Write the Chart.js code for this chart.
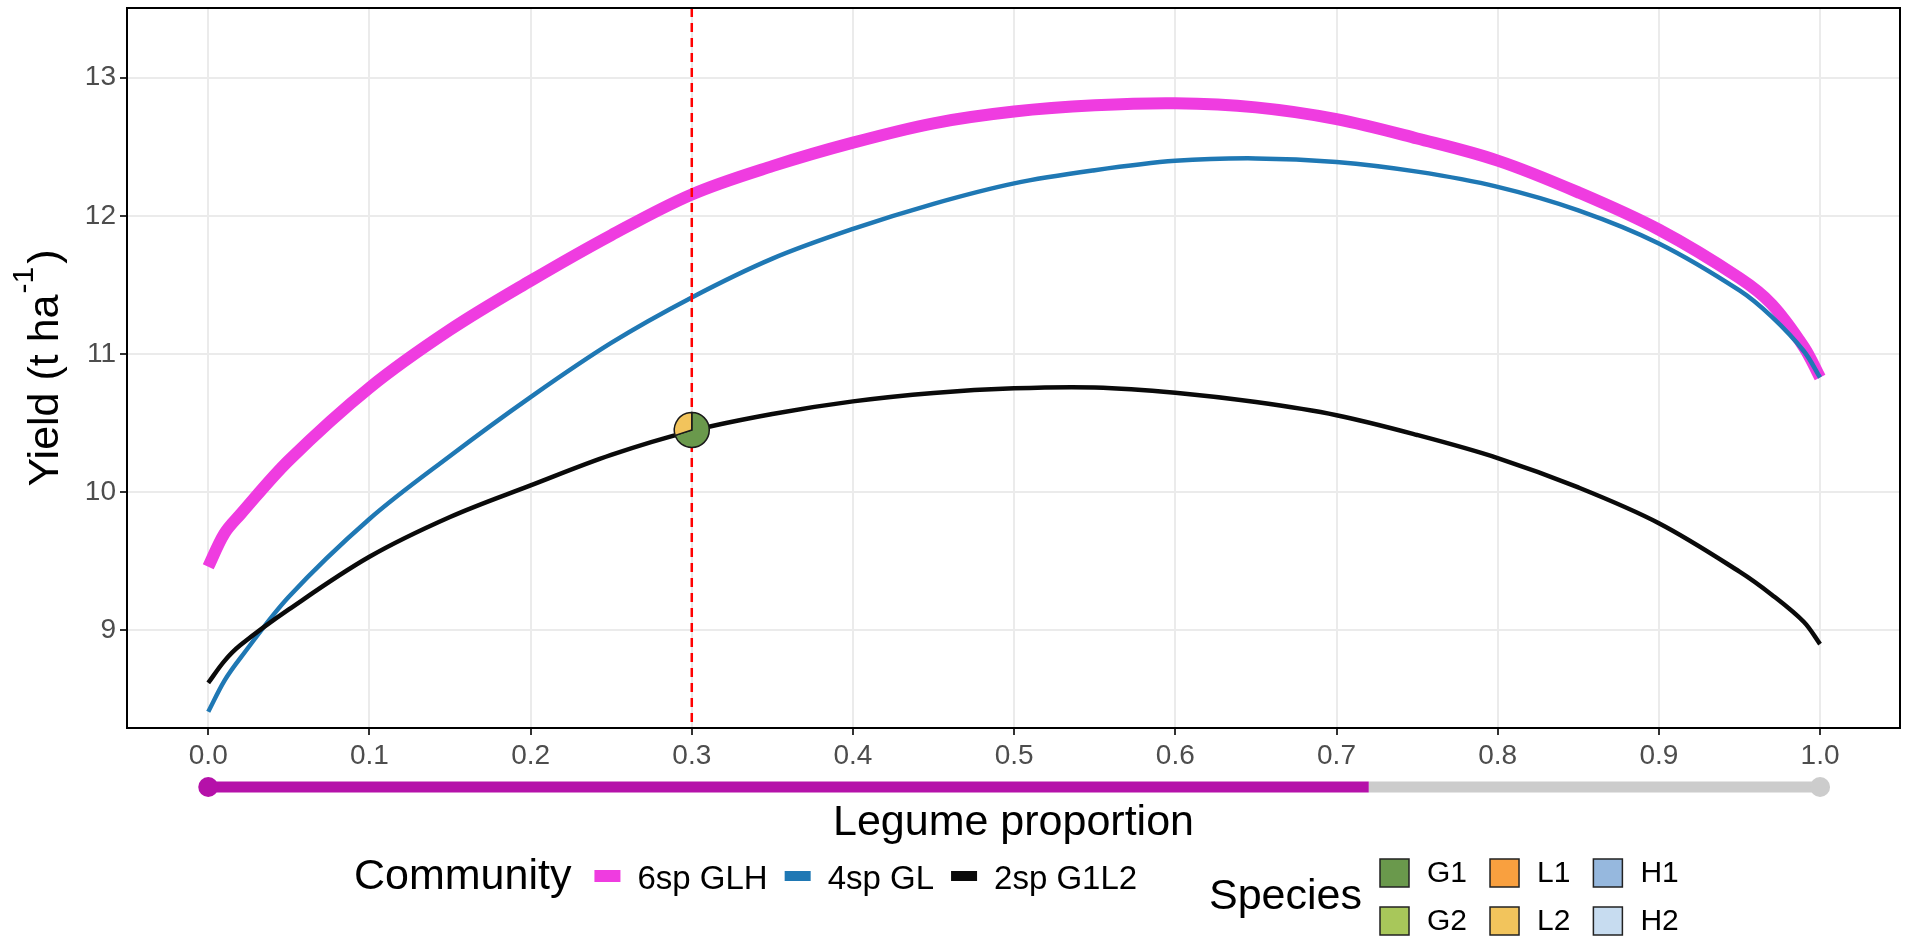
<!DOCTYPE html>
<html>
<head>
<meta charset="utf-8">
<script src="https://cdn.jsdelivr.net/npm/chart.js@4.4.1/dist/chart.umd.min.js"></script>
<style>
  html, body { margin: 0; padding: 0; background: #fff; }
</style>
</head>
<body>
<canvas id="myChart" width="1905" height="940"></canvas>
<script>
// legume proportion along the x axis
const legumeProp = [0, 0.01, 0.02, 0.05, 0.1, 0.15, 0.2, 0.25, 0.3, 0.35, 0.4, 0.45, 0.5,
                    0.55, 0.6, 0.65, 0.7, 0.75, 0.8, 0.85, 0.9, 0.95, 0.97, 0.99, 1.0];
// predicted yield (t/ha) per community
const yield6sp = [9.46, 9.70, 9.84, 10.23, 10.755, 11.175, 11.53, 11.86, 12.155, 12.36, 12.53, 12.67, 12.755,
                  12.80, 12.815, 12.785, 12.70, 12.56, 12.40, 12.17, 11.90, 11.55, 11.36, 11.05, 10.83];
const yield4sp = [8.41, 8.634, 8.80, 9.243, 9.806, 10.262, 10.688, 11.08, 11.409, 11.69, 11.905, 12.087, 12.235,
                  12.33, 12.398, 12.416, 12.39, 12.32, 12.21, 12.04, 11.80, 11.46, 11.27, 11.02, 10.83];
const yield2sp = [8.619, 8.777, 8.893, 9.151, 9.532, 9.82, 10.049, 10.27, 10.444, 10.566, 10.657, 10.718, 10.752,
                  10.758, 10.72, 10.652, 10.557, 10.414, 10.247, 10.034, 9.775, 9.425, 9.258, 9.06, 8.90];

const communityNames = ['6sp GLH', '4sp GL', '2sp G1L2'];
const xTickValues = [0, 0.1, 0.2, 0.3, 0.4, 0.5, 0.6, 0.7, 0.8, 0.9, 1.0];
const yTickValues = [9, 10, 11, 12, 13];

// selected point on the 2sp curve, shown as a pie of species shares
const selectedProp = 0.3;
const selectedYield = 10.45;
const pieSpecies = ['G1', 'L2'];
const pieShares = [0.7, 0.3];

// slider under the x axis
const sliderFrom = 0;
const sliderValue = 0.72;
const sliderTo = 1.0;

const speciesNames = ['G1', 'L1', 'H1', 'G2', 'L2', 'H2'];
const speciesColors = {
    G1: '#6a994c', G2: '#a8c75a',
    L1: '#f9a03f', L2: '#f2c45c',
    H1: '#96b8de', H2: '#c7dcf0'
};
const communityColors = ['#ef3ce0', '#1f78b4', '#0a0a0a'];

const FONT = '"Liberation Sans", Arial, Helvetica, sans-serif';
Chart.defaults.font.family = FONT;

function toPoints(values) {
    return legumeProp.map((x, i) => ({ x: x, y: values[i] }));
}

const extras = {
    id: 'extras',
    afterDatasetsDraw(chart) {
        const { ctx, chartArea: a, scales: { x, y } } = chart;
        ctx.save();
        ctx.beginPath();
        ctx.rect(a.left, a.top, a.width, a.height);
        ctx.clip();

        // dashed marker at the chosen proportion
        const px = x.getPixelForValue(selectedProp);
        ctx.strokeStyle = '#ff0000';
        ctx.lineWidth = 2.5;
        ctx.setLineDash([9, 6]);
        ctx.beginPath();
        ctx.moveTo(px, a.top);
        ctx.lineTo(px, a.bottom);
        ctx.stroke();
        ctx.setLineDash([]);

        // pie at the selected point
        const py = y.getPixelForValue(selectedYield);
        const r = 17.5;
        let start = -Math.PI / 2;
        pieShares.forEach((share, i) => {
            const end = start + share * 2 * Math.PI;
            ctx.beginPath();
            ctx.moveTo(px, py);
            ctx.arc(px, py, r, start, end);
            ctx.closePath();
            ctx.fillStyle = speciesColors[pieSpecies[i]];
            ctx.fill();
            ctx.strokeStyle = '#1a1a1a';
            ctx.lineWidth = 1.5;
            ctx.stroke();
            start = end;
        });
        ctx.restore();

        // panel border
        ctx.save();
        ctx.strokeStyle = '#000';
        ctx.lineWidth = 2;
        ctx.strokeRect(a.left, a.top, a.width, a.height);
        ctx.restore();
    },
    afterDraw(chart) {
        const { ctx, chartArea: a, scales: { x } } = chart;
        ctx.save();

        // slider bar
        const sy = 787;
        const x0 = x.getPixelForValue(sliderFrom);
        const xv = x.getPixelForValue(sliderValue);
        const x1 = x.getPixelForValue(sliderTo);
        ctx.lineCap = 'butt';
        ctx.lineWidth = 11;
        ctx.strokeStyle = '#cccccc';
        ctx.beginPath(); ctx.moveTo(xv, sy); ctx.lineTo(x1, sy); ctx.stroke();
        ctx.strokeStyle = '#b511a9';
        ctx.beginPath(); ctx.moveTo(x0, sy); ctx.lineTo(xv, sy); ctx.stroke();
        ctx.fillStyle = '#b511a9';
        ctx.beginPath(); ctx.arc(x0, sy, 10, 0, 2 * Math.PI); ctx.fill();
        ctx.fillStyle = '#cccccc';
        ctx.beginPath(); ctx.arc(x1, sy, 10, 0, 2 * Math.PI); ctx.fill();

        // y axis title with superscript
        ctx.translate(58, (a.top + a.bottom) / 2);
        ctx.rotate(-Math.PI / 2);
        ctx.fillStyle = '#000';
        ctx.textBaseline = 'alphabetic';
        const main = '43px ' + FONT, sup = '30px ' + FONT;
        ctx.font = main;
        const w1 = ctx.measureText('Yield (t ha').width;
        const w3 = ctx.measureText(')').width;
        ctx.font = sup;
        const w2 = ctx.measureText('-1').width;
        let tx = -(w1 + w2 + w3 + 4) / 2;
        ctx.font = main;
        ctx.fillText('Yield (t ha', tx, 0);
        ctx.font = sup;
        ctx.fillText('-1', tx + w1 + 1, -25);
        ctx.font = main;
        ctx.fillText(')', tx + w1 + w2 + 4, 0);
        ctx.setTransform(1, 0, 0, 1, 0, 0);

        // community legend
        ctx.textBaseline = 'middle';
        ctx.textAlign = 'left';
        ctx.font = '43px ' + FONT;
        let lx = 354;
        ctx.fillText('Community', lx, 877);
        lx += ctx.measureText('Community').width + 23;
        ctx.font = '33px ' + FONT;
        communityNames.forEach((name, i) => {
            const h = i === 0 ? 12 : 10;
            ctx.fillStyle = communityColors[i];
            ctx.fillRect(lx, 876 - h / 2, 26, h);
            lx += 26 + 17;
            ctx.fillStyle = '#000';
            ctx.fillText(name, lx, 880);
            lx += ctx.measureText(name).width + 17;
        });

        // species legend (3 columns x 2 rows)
        ctx.font = '43px ' + FONT;
        ctx.fillText('Species', 1209, 897);
        ctx.font = '30px ' + FONT;
        const rowsY = [873, 921];
        let cx = 1380;
        for (let c = 0; c < 3; c++) {
            let colW = 0;
            for (let rr = 0; rr < 2; rr++) {
                const name = speciesNames[rr * 3 + c];
                const ky = rowsY[rr] - 14;
                ctx.fillStyle = speciesColors[name];
                ctx.fillRect(cx, ky, 29, 28);
                ctx.strokeStyle = '#222';
                ctx.lineWidth = 1.5;
                ctx.strokeRect(cx, ky, 29, 28);
                ctx.fillStyle = '#000';
                ctx.fillText(name, cx + 47, rowsY[rr] + 1);
                colW = Math.max(colW, ctx.measureText(name).width);
            }
            cx += 47 + colW + 23;
        }
        ctx.restore();
    }
};

const gridStyle = { color: '#ebebeb', lineWidth: 2, tickColor: '#333333', tickLength: 7, tickWidth: 2 };

new Chart('myChart', {
    type: 'line',
    data: {
        datasets: [
            { label: communityNames[0], data: toPoints(yield6sp), borderColor: communityColors[0], borderWidth: 12, order: 3 },
            { label: communityNames[1], data: toPoints(yield4sp), borderColor: communityColors[1], borderWidth: 4.5, order: 2 },
            { label: communityNames[2], data: toPoints(yield2sp), borderColor: communityColors[2], borderWidth: 4.5, order: 1 }
        ]
    },
    options: {
        responsive: false,
        animation: false,
        devicePixelRatio: 1,
        layout: { padding: { top: 8, right: 5, left: 0, bottom: 0 } },
        elements: {
            point: { radius: 0, hoverRadius: 0 },
            line: { tension: 0.35, fill: false, borderCapStyle: 'butt', borderJoinStyle: 'round' }
        },
        plugins: { legend: { display: false }, tooltip: { enabled: false } },
        scales: {
            x: {
                type: 'linear',
                min: -0.0504,
                max: 1.0496,
                afterBuildTicks: s => { s.ticks = xTickValues.map(v => ({ value: v })); },
                afterFit: s => { s.height = 212; s.paddingLeft = 0; s.paddingRight = 0; },
                grid: gridStyle,
                border: { display: false },
                ticks: {
                    color: '#4d4d4d', font: { size: 28 }, padding: 4, maxRotation: 0, autoSkip: false,
                    callback: v => v.toFixed(1)
                },
                title: {
                    display: true, text: 'Legume proportion', color: '#000',
                    font: { size: 43 }, padding: { top: 0, bottom: 91 }
                }
            },
            y: {
                type: 'linear',
                min: 8.2928,
                max: 13.5045,
                afterBuildTicks: s => { s.ticks = yTickValues.map(v => ({ value: v })); },
                afterFit: s => { s.width = 127; s.paddingTop = 0; s.paddingBottom = 0; },
                grid: gridStyle,
                border: { display: false },
                ticks: { color: '#4d4d4d', font: { size: 28 }, padding: 4, autoSkip: false }
            }
        }
    },
    plugins: [extras]
});
</script>
</body>
</html>
